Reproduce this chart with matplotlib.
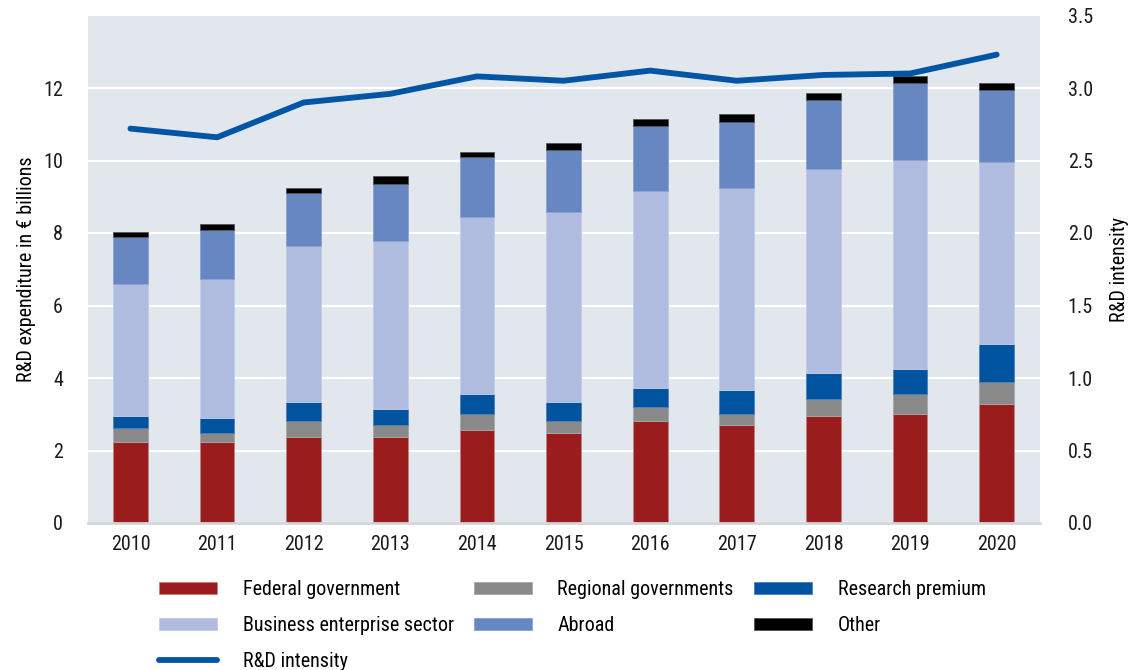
import matplotlib
matplotlib.use("Agg")
import matplotlib.pyplot as plt
from matplotlib import font_manager as fm
import numpy as np

years = ["2010", "2011", "2012", "2013", "2014", "2015", "2016", "2017", "2018", "2019", "2020"]
federal = [2.23, 2.23, 2.36, 2.36, 2.56, 2.47, 2.82, 2.69, 2.94, 3.02, 3.27]
regional = [0.39, 0.26, 0.46, 0.33, 0.46, 0.35, 0.39, 0.33, 0.48, 0.53, 0.61]
research_premium = [0.32, 0.40, 0.53, 0.46, 0.53, 0.53, 0.52, 0.65, 0.72, 0.71, 1.05]
business = [3.65, 3.83, 4.29, 4.63, 4.89, 5.22, 5.43, 5.56, 5.62, 5.75, 5.03]
abroad = [1.31, 1.37, 1.46, 1.58, 1.65, 1.71, 1.78, 1.84, 1.91, 2.12, 1.98]
other = [0.13, 0.15, 0.13, 0.20, 0.14, 0.20, 0.20, 0.20, 0.20, 0.20, 0.19]
intensity = [2.72, 2.66, 2.90, 2.96, 3.08, 3.05, 3.12, 3.05, 3.09, 3.10, 3.23]

series_names = ["Federal government", "Regional governments", "Research premium",
                "Business enterprise sector", "Abroad", "Other"]
series_colors = ["#9a1c1c", "#898989", "#00539f", "#afbcdf", "#6687c2", "#000000"]
edge_colors = ["#c08080", "#a8a8a8", "#5080b8", "#c4cde8", "#8ca3d2", "#555555"]
line_color = "#0055a4"

# pick a condensed font if available
avail = {f.name for f in fm.fontManager.ttflist}
family = "DejaVu Sans"
stretch = "normal"
for cand in ["Roboto Condensed", "Liberation Sans Narrow", "Open Sans Condensed", "Noto Sans Condensed"]:
    if cand in avail:
        family = cand
        break
else:
    if any(f.name == "DejaVu Sans" and f.stretch == "condensed" for f in fm.fontManager.ttflist):
        stretch = "condensed"
plt.rcParams["font.family"] = [family, "DejaVu Sans"]
plt.rcParams["font.stretch"] = stretch

FS = 14.5

fig = plt.figure(figsize=(11.3, 6.7), dpi=100)
ax = fig.add_axes([88/1130, 1-523/670, (1040-88)/1130, (523-15.5)/670])
ax.set_facecolor("#e1e7ec")
ax.set_axisbelow(True)

x = np.arange(len(years))
data = [federal, regional, research_premium, business, abroad, other]
bottom = np.zeros(len(years))
handles = []
for vals, name, c, ec in zip(data, series_names, series_colors, edge_colors):
    b = ax.bar(x, vals, width=0.4, bottom=bottom, color=c, edgecolor=ec, linewidth=0.6, label=name, zorder=2)
    handles.append(b)
    bottom = bottom + np.array(vals)

ax.set_xlim(-0.49, 10.5)
ax.set_ylim(0, 14)
ax.set_yticks(range(0, 13, 2))
ax.set_xticks(x)
ax.set_xticklabels(years)
ax.grid(axis="y", color="white", linewidth=1.6, zorder=0)
ax.grid(axis="x", visible=False)
for s in ["top", "right", "left"]:
    ax.spines[s].set_visible(False)
ax.spines["bottom"].set_color("#d2d6da")
ax.spines["bottom"].set_linewidth(2)
ax.tick_params(axis="both", length=0, labelsize=FS, colors="#1a1a1a")
ax.tick_params(axis="x", pad=9)
ax.tick_params(axis="y", pad=18)
ax.set_ylabel("R&D expenditure in € billions", fontsize=FS, labelpad=5)

ax2 = ax.twinx()
ln, = ax2.plot(x, intensity, color=line_color, linewidth=4.2, solid_capstyle="round",
               solid_joinstyle="miter", label="R&D intensity", zorder=3)
ax2.set_ylim(0, 3.5)
ticks_r = np.arange(0, 3.51, 0.5)
ax2.set_yticks(ticks_r)
ax2.set_yticklabels([f"{v:.1f}" for v in ticks_r])
for s in ["top", "right", "left", "bottom"]:
    ax2.spines[s].set_visible(False)
ax2.tick_params(axis="y", length=0, labelsize=FS, pad=20, colors="#1a1a1a")
ax2.set_ylabel("R&D intensity", fontsize=FS, labelpad=12)

leg_handles = [handles[0], handles[3], ln, handles[1], handles[4], handles[2], handles[5]]
leg_labels = [series_names[0], series_names[3], "R&D intensity", series_names[1],
              series_names[4], series_names[2], series_names[5]]
fig.legend(leg_handles, leg_labels, loc="upper left", bbox_to_anchor=(159/1130, 1-580/670),
           ncol=3, frameon=False, fontsize=FS, handlelength=2.9, handleheight=0.6,
           handletextpad=1.25, columnspacing=1.0, labelspacing=0.85, borderpad=0, borderaxespad=0)

fig.savefig("out.png", dpi=100)
